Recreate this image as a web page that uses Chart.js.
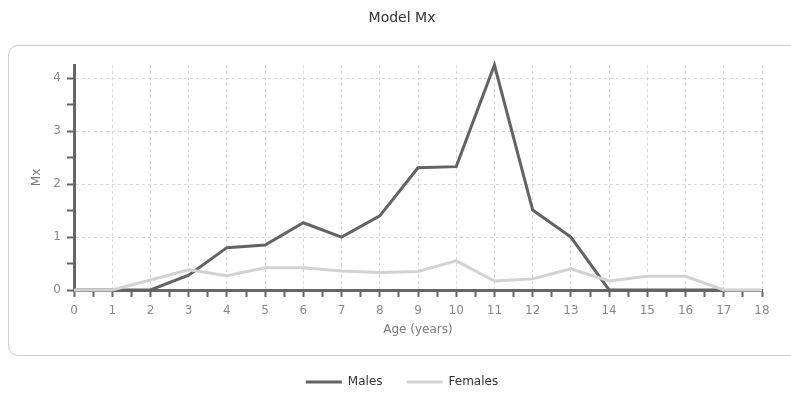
<!DOCTYPE html>
<html><head><meta charset="utf-8">
<script src="https://cdn.jsdelivr.net/npm/chart.js@4/dist/chart.umd.min.js"></script>
<style>
html,body{margin:0;padding:0;background:#fff;}
#wrap{position:relative;width:791px;height:393px;overflow:hidden;}
#frame{position:absolute;left:8px;top:45px;width:820px;height:311px;border:1px solid #cfcfcf;border-radius:10px;box-sizing:border-box;}
canvas{position:absolute;left:0;top:0;}
</style></head>
<body><div id="wrap"><div id="frame"></div><canvas id="c" width="791" height="400"></canvas></div>
<script>
const ages = [0,1,2,3,4,5,6,7,8,9,10,11,12,13,14,15,16,17,18];
const males = [0,0,0,0.28,0.80,0.85,1.27,1.00,1.40,2.31,2.33,4.25,1.51,1.00,0,0,0,0,null];
const females = [0,0,0.19,0.38,0.27,0.42,0.42,0.36,0.33,0.35,0.55,0.17,0.21,0.40,0.17,0.26,0.26,0,0];
const seriesNames = ['Males','Females'];
const titleText = 'Model Mx';
const xTitle = 'Age (years)';
const yTitle = 'Mx';

const FONT = 'DejaVu Sans, Verdana, sans-serif';
const toXY = arr => ages.map((a,i)=>({x:a,y:arr[i]}));
const gridColor = c => Number.isInteger(c.tick && c.tick.value) ? '#d8d8d8' : 'rgba(0,0,0,0)';

new Chart(document.getElementById('c'), {
  type: 'line',
  data: {
    datasets: [
      {label: seriesNames[0], data: toXY(males), borderColor:'#636363', backgroundColor:'#636363', borderWidth:3, pointRadius:0, tension:0, order:1, clip:false},
      {label: seriesNames[1], data: toXY(females), borderColor:'#d2d2d2', backgroundColor:'#d2d2d2', borderWidth:3, pointRadius:0, tension:0, order:0, clip:false}
    ]
  },
  options: {
    responsive:false, animation:false,
    layout:{padding:{left:42,right:29,top:0,bottom:2}},
    plugins:{
      title:{display:true,text:titleText,color:'#333',font:{family:FONT,size:14,weight:'normal'},padding:{top:10,bottom:38.2}},
      legend:{position:'bottom',labels:{usePointStyle:true,pointStyle:'line',pointStyleWidth:36,boxHeight:6,color:'#333',font:{family:FONT,size:12},padding:24,
        sort:(a,b)=>a.datasetIndex-b.datasetIndex}},
      tooltip:{enabled:false}
    },
    scales:{
      x:{type:'linear',min:0,max:18,
        afterBuildTicks:s=>{s.ticks=[];for(let v=0;v<=36;v++)s.ticks.push({value:v/2});},
        afterFit:s=>{s.height=62;},
        ticks:{autoSkip:false,maxRotation:0,padding:7,color:'#8a8a8a',font:{family:FONT,size:12},callback:v=>Number.isInteger(v)?String(v):''},
        grid:{color:gridColor,tickColor:'#666',tickLength:7,tickWidth:2,tickBorderDash:[],lineWidth:1},
        border:{display:true,color:'#666',width:3,dash:[3,3]},
        title:{display:true,text:xTitle,color:'#7a7a7a',font:{family:FONT,size:12},padding:{top:4,bottom:15}}
      },
      y:{type:'linear',min:0,max:4.25,
        afterBuildTicks:s=>{s.ticks=[];for(let v=0;v<=8;v++)s.ticks.push({value:v/2});},
        afterFit:s=>{s.width=32;},
        ticks:{autoSkip:false,padding:6,color:'#8a8a8a',font:{family:FONT,size:12},callback:v=>Number.isInteger(v)?String(v):''},
        grid:{color:gridColor,tickColor:'#666',tickLength:7,tickWidth:2,tickBorderDash:[],lineWidth:1},
        border:{display:true,color:'#666',width:3,dash:[3,3]},
        title:{display:true,text:yTitle,color:'#7a7a7a',font:{family:FONT,size:12},padding:{top:-12,bottom:-12}}
      }
    }
  }
});
</script></body></html>
